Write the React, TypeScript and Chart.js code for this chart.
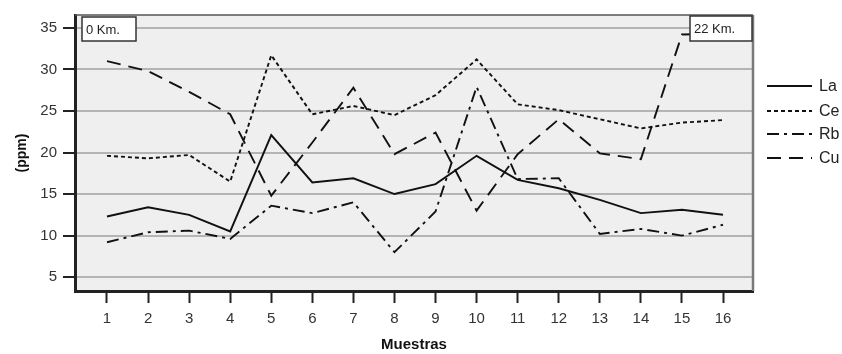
import React, { useEffect, useRef } from "react";
import { Chart, registerables } from "chart.js";

Chart.register(...registerables);

const samples = [1, 2, 3, 4, 5, 6, 7, 8, 9, 10, 11, 12, 13, 14, 15, 16];
const yTicks = [5, 10, 15, 20, 25, 30, 35];
const La = [12.3, 13.4, 12.5, 10.5, 22.1, 16.4, 16.9, 15.0, 16.2, 19.6, 16.7, 15.7, 14.3, 12.7, 13.1, 12.5];
const Ce = [19.6, 19.3, 19.7, 16.5, 31.7, 24.6, 25.6, 24.5, 26.9, 31.2, 25.8, 25.1, 24.0, 22.9, 23.6, 23.9];
const Rb = [9.2, 10.4, 10.6, 9.6, 13.6, 12.7, 14.0, 8.0, 12.9, 27.9, 16.8, 16.9, 10.2, 10.8, 10.0, 11.3];
const Cu = [31.0, 29.8, 27.3, 24.6, 14.8, 21.2, 27.8, 19.8, 22.4, 13.0, 19.8, 24.0, 19.9, 19.2, 34.2, 34.3];
const seriesNames = ["La", "Ce", "Rb", "Cu"];
const seriesValues = [La, Ce, Rb, Cu];
const dashes: number[][] = [[], [4, 3], [12, 5, 3, 5], [14, 8]];
const xTitle = "Muestras";
const yTitle = "(ppm)";
const leftNote = "0 Km.";
const rightNote = "22 Km.";

const FONT = "'Liberation Sans', Arial, sans-serif";

const decor = {
  id: "decor",
  beforeDraw(chart: any) {
    const { ctx, chartArea: a } = chart;
    ctx.save();
    ctx.fillStyle = "#efefef";
    ctx.fillRect(a.left, a.top, a.right - a.left, a.bottom - a.top);
    ctx.restore();
  },
  afterDatasetsDraw(chart: any) {
    const { ctx, chartArea: a } = chart;
    ctx.save();
    ctx.setLineDash([]);
    ctx.strokeStyle = "#555";
    ctx.lineWidth = 1.5;
    ctx.beginPath();
    ctx.moveTo(a.left, a.top);
    ctx.lineTo(a.right, a.top);
    ctx.stroke();
    ctx.strokeStyle = "#7a7a7a";
    ctx.lineWidth = 2.5;
    ctx.beginPath();
    ctx.moveTo(a.right, a.top);
    ctx.lineTo(a.right, a.bottom);
    ctx.stroke();
    ctx.font = `13px ${FONT}`;
    ctx.textBaseline = "middle";
    ctx.textAlign = "left";
    const drawBox = (x: number, y: number, w: number, h: number, t: string) => {
      ctx.fillStyle = "#fff";
      ctx.fillRect(x, y, w, h);
      ctx.strokeStyle = "#333";
      ctx.lineWidth = 1.5;
      ctx.strokeRect(x, y, w, h);
      ctx.fillStyle = "#222";
      ctx.fillText(t, x + 4, y + h / 2 + 1);
    };
    drawBox(a.left + 7, a.top + 2, 54, 24, leftNote);
    drawBox(a.right - 63, a.top + 1, 62, 25, rightNote);
    ctx.restore();
  },
  afterDraw(chart: any) {
    const { ctx, chartArea: a } = chart;
    ctx.save();
    const ys = [86, 111, 134, 158];
    ctx.font = `16px ${FONT}`;
    ctx.textBaseline = "middle";
    ctx.textAlign = "left";
    seriesNames.forEach((n, i) => {
      ctx.strokeStyle = "#111";
      ctx.lineWidth = 2;
      ctx.setLineDash(dashes[i]);
      ctx.beginPath();
      ctx.moveTo(767, ys[i]);
      ctx.lineTo(812, ys[i]);
      ctx.stroke();
      ctx.setLineDash([]);
      ctx.fillStyle = "#222";
      ctx.fillText(n, 819, ys[i] + 1);
    });
    ctx.fillStyle = "#111";
    ctx.font = `bold 15px ${FONT}`;
    ctx.textAlign = "center";
    ctx.fillText(xTitle, (a.left + a.right) / 2, 345);
    ctx.translate(22, (a.top + a.bottom) / 2);
    ctx.rotate(-Math.PI / 2);
    ctx.font = `bold 14px ${FONT}`;
    ctx.fillText(yTitle, 0, 0);
    ctx.restore();
  },
};

export default function App() {
  const ref = useRef<HTMLCanvasElement>(null);
  useEffect(() => {
    document.body.style.margin = "0";
    const chart = new Chart(ref.current as HTMLCanvasElement, {
      type: "line",
      data: {
        datasets: seriesNames.map((n, i) => ({
          label: n,
          data: samples.map((s, j) => ({ x: s, y: seriesValues[i][j] })),
          borderColor: "#111",
          borderWidth: 1.9,
          borderDash: dashes[i],
          pointRadius: 0,
          fill: false,
          tension: 0,
        })),
      },
      options: {
        responsive: false,
        animation: false,
        layout: { padding: { left: 0, right: 89, top: 12, bottom: 0 } },
        plugins: { legend: { display: false }, tooltip: { enabled: false } },
        scales: {
          x: {
            type: "linear",
            min: 0.221,
            max: 16.73,
            afterBuildTicks: (s: any) => {
              s.ticks = samples.map((v) => ({ value: v }));
            },
            afterFit: (s: any) => {
              s.height = 63;
            },
            grid: { drawOnChartArea: false, drawTicks: true, tickLength: 12, tickColor: "#222", tickWidth: 2 },
            border: { color: "#222", width: 3 },
            ticks: { font: { family: FONT, size: 15 }, color: "#333", padding: 7, maxRotation: 0, autoSkip: false },
          },
          y: {
            type: "linear",
            min: 3.33,
            max: 36.55,
            afterBuildTicks: (s: any) => {
              s.ticks = yTicks.map((v) => ({ value: v }));
            },
            afterFit: (s: any) => {
              s.width = 75;
            },
            grid: { color: "#b4b4b4", lineWidth: 2, drawTicks: true, tickLength: 12, tickColor: "#222", tickWidth: 2 },
            border: { color: "#222", width: 3 },
            ticks: { font: { family: FONT, size: 15 }, color: "#333", padding: 6 },
          },
        },
      },
      plugins: [decor],
    } as any);
    return () => chart.destroy();
  }, []);
  return (
    <div style={{ position: "absolute", left: 0, top: 0, width: 842, height: 354, background: "#fff" }}>
      <canvas ref={ref} width={842} height={354} style={{ display: "block" }} />
    </div>
  );
}
